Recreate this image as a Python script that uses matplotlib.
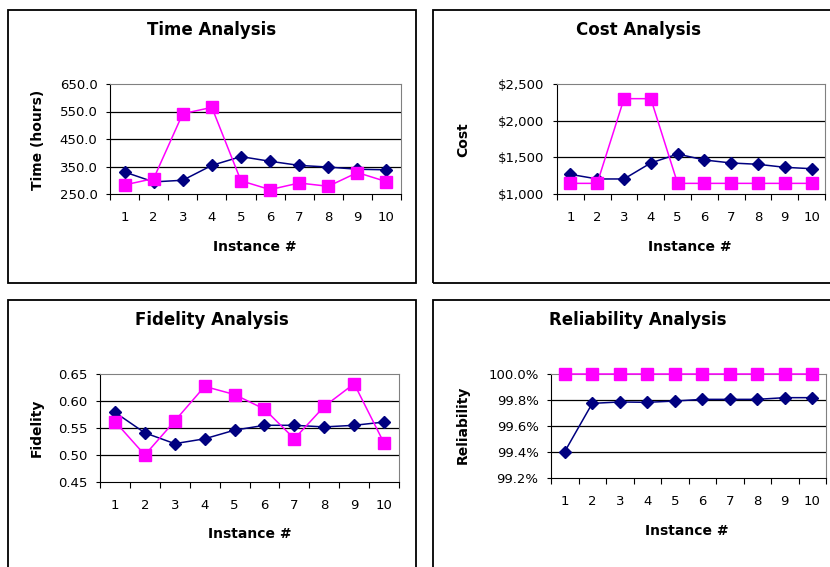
import matplotlib.pyplot as plt
import numpy as np
from matplotlib.patches import Rectangle
from matplotlib.ticker import FuncFormatter

plt.rcParams['font.family'] = ['DejaVu Sans']

W, H = 830, 567
NAVY = "#000080"
MAGENTA = "#FF00FF"

instances = np.arange(1, 11)

time_a = [330, 294, 300, 354, 386, 369, 354, 348, 340, 338]
time_b = [283, 306, 542, 565, 298, 266, 290, 278, 328, 295]

cost_a = [1268, 1205, 1205, 1423, 1545, 1464, 1423, 1405, 1364, 1345]
cost_b = [1145, 1145, 2300, 2300, 1145, 1145, 1145, 1145, 1145, 1145]

fid_a = [0.579, 0.541, 0.521, 0.530, 0.546, 0.555, 0.555, 0.552, 0.555, 0.561]
fid_b = [0.562, 0.500, 0.563, 0.627, 0.612, 0.585, 0.530, 0.590, 0.632, 0.522]

rel_a = [99.403, 99.774, 99.785, 99.782, 99.792, 99.805, 99.805, 99.805, 99.818, 99.818]
rel_b = [100.0] * 10

fig = plt.figure(figsize=(W / 100, H / 100), dpi=100)


def px_axes(x0, y0, x1, y1):
    return fig.add_axes([x0 / W, 1 - y1 / H, (x1 - x0) / W, (y1 - y0) / H])


def fig_text(x, y, s, **kw):
    fig.text(x / W, 1 - y / H, s, ha="center", va="center", **kw)


def frame(x0, y0, x1, y1):
    fig.patches.append(Rectangle((x0 / W, 1 - y1 / H), (x1 - x0) / W, (y1 - y0) / H,
                                 transform=fig.transFigure, fill=False,
                                 edgecolor="black", linewidth=1.3))


def panel(box, a, b, yticks, fmt, title, tpos, ylabel, ypos, xpos):
    ax = px_axes(*box)
    ax.plot(instances, a, color=NAVY, marker="D", markersize=6, linewidth=1.1,
            zorder=3, clip_on=False)
    ax.plot(instances, b, color=MAGENTA, marker="s", markersize=8, linewidth=1.1,
            zorder=4, clip_on=False)
    ax.set_xlim(0.5, 10.5)
    ax.set_ylim(yticks[0], yticks[-1])
    ax.set_yticks(yticks)
    ax.yaxis.set_major_formatter(FuncFormatter(fmt))
    ax.set_xticks(instances)
    ax.set_xticks(np.arange(0.5, 11, 1), minor=True)
    ax.tick_params(axis="x", which="major", length=0, pad=12, labelsize=9.5)
    ax.tick_params(axis="x", which="minor", length=4, direction="out", width=0.8)
    ax.tick_params(axis="y", length=3, pad=6, labelsize=9.5, width=0.8)
    for yv in yticks[1:-1]:
        ax.axhline(yv, color="black", linewidth=0.9, zorder=1)
    ax.spines["top"].set_color("#808080")
    ax.spines["right"].set_color("#808080")
    ax.spines["left"].set_color("black")
    ax.spines["bottom"].set_color("black")
    ax.set_facecolor("white")
    fig_text(*tpos, title, fontsize=12, fontweight="bold")
    fig_text(*ypos, ylabel, fontsize=10, fontweight="bold", rotation=90)
    fig_text(*xpos, "Instance #", fontsize=10, fontweight="bold")
    return ax


frame(8, 10, 416, 283)
frame(433, 10, 836, 283)
frame(8, 300, 416, 575)
frame(433, 300, 836, 575)

panel((110, 84, 401, 194), time_a, time_b, [250, 350, 450, 550, 650],
      lambda v, p: f"{v:.1f}", "Time Analysis", (212, 30),
      "Time (hours)", (38, 140), (255, 247))

panel((557, 84, 825, 194), cost_a, cost_b, [1000, 1500, 2000, 2500],
      lambda v, p: f"${v:,.0f}", "Cost Analysis", (638, 30),
      "Cost", (463, 140), (690, 247))

panel((100, 374, 399, 482), fid_a, fid_b, [0.45, 0.50, 0.55, 0.60, 0.65],
      lambda v, p: f"{v:.2f}", "Fidelity Analysis", (212, 320),
      "Fidelity", (37, 428), (250, 534))

panel((551, 374, 826, 478), rel_a, rel_b, [99.2, 99.4, 99.6, 99.8, 100.0],
      lambda v, p: f"{v:.1f}%", "Reliability Analysis", (638, 320),
      "Reliability", (463, 425), (687, 531))

fig.savefig("out.png", dpi=100)
